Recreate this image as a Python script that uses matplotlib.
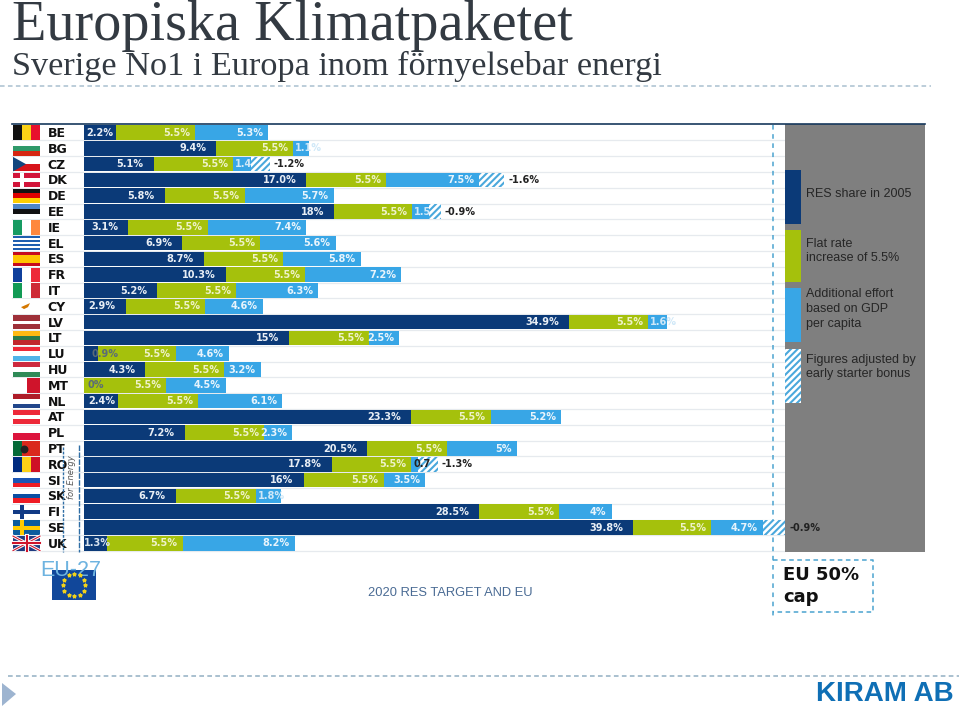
#!/usr/bin/env python

import matplotlib
matplotlib.use('Agg')
import matplotlib.pyplot as plt
import numpy as np

from matplotlib.patches import Polygon, Rectangle

W, H = 959, 706

# Bar lengths as drawn in the picture (percent on the picture's own scale,
# the source slide is slightly out of proportion with its printed labels)

countries = ['BE', 'BG', 'CZ', 'DK', 'DE', 'EE', 'IE', 'EL', 'ES', 'FR', 'IT', 'CY', 'LV', 'LT',
             'LU', 'HU', 'MT', 'NL', 'AT', 'PL', 'PT', 'RO', 'SI', 'SK', 'FI', 'SE', 'UK']
res_2005 = [2.3, 9.5, 5.0, 16.0, 5.8, 18.0, 3.2, 7.05, 8.6, 10.2, 5.25, 3.0, 34.9, 14.75,
            1.0, 4.4, 0, 2.45, 23.5, 7.25, 20.35, 17.85, 15.8, 6.6, 28.4, 39.5, 1.65]
flat_rate = [5.7, 5.55, 5.75, 5.75, 5.75, 5.6, 5.7, 5.6, 5.75, 5.7, 5.7, 5.7, 5.7, 5.75,
             5.6, 5.7, 5.9, 5.75, 5.75, 5.7, 5.75, 5.7, 5.75, 5.75, 5.8, 5.6, 5.45]
additional = [5.25, 1.15, 1.3, 6.7, 6.4, 1.2, 7.1, 5.45, 5.55, 6.9, 5.9, 4.15, 1.35, 2.15,
              3.8, 2.6, 4.3, 6.05, 5.1, 2.0, 5.05, 0.45, 3.0, 1.8, 3.75, 3.75, 8.05]
adjusted = [0, 0, 1.3, 1.8, 0, 0.85, 0, 0, 0, 0, 0, 0, 0, 0,
            0, 0, 0, 0, 0, 0, 0, 1.45, 0, 0, 0, 1.6, 0]

res_labels = ['2.2%', '9.4%', '5.1%', '17.0%', '5.8%', '18%', '3.1%', '6.9%', '8.7%', '10.3%',
              '5.2%', '2.9%', '34.9%', '15%', '0.9%', '4.3%', '0%', '2.4%', '23.3%', '7.2%',
              '20.5%', '17.8%', '16%', '6.7%', '28.5%', '39.8%', '1.3%']
add_labels = ['5.3%', '1.1%', '1.4', '7.5%', '5.7%', '1.5', '7.4%', '5.6%', '5.8%', '7.2%',
              '6.3%', '4.6%', '1.6%', '2.5%', '4.6%', '3.2%', '4.5%', '6.1%', '5.2%', '2.3%',
              '5%', '0.7', '3.5%', '1.8%', '4%', '4.7%', '8.2%']
adj_labels = ['', '', '-1.2%', '-1.6%', '', '-0.9%', '', '', '', '', '', '', '', '',
              '', '', '', '', '', '', '', '-1.3%', '', '', '', '-0.9%', '']

legend_labels = ['RES share in 2005', 'Flat rate\nincrease of 5.5%',
                 'Additional effort\nbased on GDP\nper capita',
                 'Figures adjusted by\nearly starter bonus']

# Flags: direction and stripe colours

flags = {
    'BE': ('v', ['#111111', '#fbd116', '#e8112d']),
    'BG': ('h', ['#ffffff', '#2f9a6a', '#d62612']),
    'CZ': ('h', ['#ffffff', '#d7141a']),
    'DK': ('h', ['#d2143a']),
    'DE': ('h', ['#111111', '#dd0000', '#ffce00']),
    'EE': ('h', ['#4f86c6', '#111111', '#ffffff']),
    'IE': ('v', ['#169b62', '#ffffff', '#ff883e']),
    'EL': ('h', ['#1f5fb0', '#ffffff', '#1f5fb0', '#ffffff', '#1f5fb0', '#ffffff', '#1f5fb0']),
    'ES': ('h', ['#c60b1e', '#ffc400', '#ffc400', '#c60b1e']),
    'FR': ('v', ['#0f3f9c', '#ffffff', '#ed2939']),
    'IT': ('v', ['#129a55', '#ffffff', '#ce2b37']),
    'CY': ('h', ['#ffffff']),
    'LV': ('h', ['#9e3039', '#9e3039', '#ffffff', '#9e3039', '#9e3039']),
    'LT': ('h', ['#fdb913', '#2a7a4a', '#c1272d']),
    'LU': ('h', ['#ed2939', '#ffffff', '#4fb3e8']),
    'HU': ('h', ['#cd2a3e', '#ffffff', '#2f8a57']),
    'MT': ('v', ['#ffffff', '#cf142b']),
    'NL': ('h', ['#ae1c28', '#ffffff', '#21468b']),
    'AT': ('h', ['#ed2939', '#ffffff', '#ed2939']),
    'PL': ('h', ['#ffffff', '#dc143c']),
    'PT': ('v', ['#046a38', '#da291c', '#da291c']),
    'RO': ('v', ['#002b7f', '#fcd116', '#ce1126']),
    'SI': ('h', ['#ffffff', '#1a55b5', '#ed1c24']),
    'SK': ('h', ['#ffffff', '#0b4ea2', '#ee1c25']),
    'FI': ('h', ['#ffffff']),
    'SE': ('h', ['#0a5c9e']),
    'UK': ('h', ['#1f3a80']),
}
crosses = {'DK': '#ffffff', 'FI': '#113a85', 'SE': '#fecc00'}

navy = '#0b3a78'
green = '#a5c10c'
blue = '#38a6e6'
px_per_pct = 13.9
x0, row_top, row_h = 84, 124.6, 15.8
panel_x = 785

fig = plt.figure(figsize=(W/100, H/100), dpi=100)

# Overlay in pixels for everything around the bars

bg = fig.add_axes([0, 0, 1, 1], zorder=1)
bg.set_xlim(0, W)
bg.set_ylim(H, 0)
bg.axis('off')

# Bars

bottom = row_top + 27*row_h
ax = fig.add_axes([x0/W, 1 - bottom/H, (panel_x - x0)/W, 27*row_h/H], zorder=2)
ax.patch.set_alpha(0)
ax.set_xlim(0, (panel_x - x0)/px_per_pct)
ax.set_ylim(26.5, -0.5)
ax.axis('off')

y = np.arange(len(countries))
res = np.array(res_2005)
flat = np.array(flat_rate)
add = np.array(additional)
adj = np.array(adjusted)

h = 0.93
plt.rcParams['hatch.linewidth'] = 1.5
ax.barh(y, res, h, color=navy)
ax.barh(y, flat, h, left=res, color=green)
ax.barh(y, add, h, left=res + flat, color=blue)
ax.barh(y, adj, h, left=res + flat + add, color='white', edgecolor='#4aa8dc', hatch='/////', linewidth=0)

def bar_label(x, i, s, color, ha='right', dx=-5):
    ax.annotate(s, (x, i), xytext=(dx*0.72, 0), textcoords='offset points', ha=ha, va='center',
                color=color, fontsize=7, fontweight='bold', clip_on=False)

for i in y:
    end_res = res[i]
    end_flat = end_res + flat[i]
    end_add = end_flat + add[i]
    if res[i] < 1.2:
        bar_label(0, i, res_labels[i], '#5a6b78', ha='left', dx=3 if res[i] == 0 else 7)
    elif res[i] < 2:
        bar_label(0, i, res_labels[i], '#d8e4f0', ha='left', dx=0)
    elif res[i] < 2.5:
        bar_label(end_res, i, res_labels[i], '#e8eef5', dx=-3)
    else:
        bar_label(end_res, i, res_labels[i], '#e8eef5', dx=-10)
    bar_label(end_flat, i, '5.5%', '#eef2c8', dx=-5)
    if add[i] < 1.9:
        c = '#222222' if add_labels[i] == '0.7' else '#cfe8f8'
        bar_label(end_flat, i, add_labels[i], c, ha='left', dx=2)
    else:
        bar_label(end_flat + add[i], i, add_labels[i], '#e8f4fc', dx=-5)
    if adj[i] > 0:
        bar_label(end_add + adj[i], i, adj_labels[i], '#222222', ha='left', dx=4)

# Row lines, labels and flags

for i, name in enumerate(countries):
    yc = row_top + (i + 0.5)*row_h
    bg.plot([12, panel_x], [yc + row_h/2]*2, color='#e6eaee', lw=0.9, zorder=1)
    bg.text(47.5, yc + 1, name, fontsize=9, fontweight='bold', color='#111111', va='center', ha='left', zorder=4)

    fx, fy, fw, fh = 13, yc - 7.2, 27, 14.5
    kind, cols = flags[name]
    n = len(cols)
    for k, c in enumerate(cols):
        if kind == 'h':
            bg.add_patch(Rectangle((fx, fy + k*fh/n), fw, fh/n, fc=c, ec='none', zorder=2))
        else:
            bg.add_patch(Rectangle((fx + k*fw/n, fy), fw/n, fh, fc=c, ec='none', zorder=2))
    if name in crosses:
        bg.add_patch(Rectangle((fx + 7, fy), 4, fh, fc=crosses[name], ec='none', zorder=3))
        bg.add_patch(Rectangle((fx, fy + fh/2 - 2), fw, 4, fc=crosses[name], ec='none', zorder=3))
    if name == 'CZ':
        bg.add_patch(Polygon([(fx, fy), (fx + 13, fy + fh/2), (fx, fy + fh)], fc='#11457e', ec='none', zorder=3))
    if name == 'CY':
        bg.add_patch(Polygon([(fx + 8, fy + 8), (fx + 17, fy + 4), (fx + 15, fy + 8), (fx + 11, fy + 10)],
                             fc='#d57800', ec='none', zorder=3))
    if name == 'PT':
        bg.scatter([fx + 11], [yc], s=22, color='#222222', zorder=3)
    if name == 'UK':
        for sx in (1, -1):
            bg.plot([fx + fw/2 - sx*fw/2, fx + fw/2 + sx*fw/2], [fy, fy + fh], color='white', lw=2.2, zorder=3)
            bg.plot([fx + fw/2 - sx*fw/2, fx + fw/2 + sx*fw/2], [fy, fy + fh], color='#cf142b', lw=0.8, zorder=3)
        bg.plot([fx + fw/2]*2, [fy, fy + fh], color='white', lw=3, zorder=3)
        bg.plot([fx, fx + fw], [fy + fh/2]*2, color='white', lw=3, zorder=3)
        bg.plot([fx + fw/2]*2, [fy, fy + fh], color='#cf142b', lw=1.5, zorder=3)
        bg.plot([fx, fx + fw], [fy + fh/2]*2, color='#cf142b', lw=1.5, zorder=3)

# Grey legend panel

bg.add_patch(Rectangle((panel_x, 124), 140, 428, fc='#7f7f7f', ec='none', zorder=1.5))
bg.plot([12, 925], [124, 124], color='#16385c', lw=1.2, zorder=3)

swatch_y = [170, 230, 288, 349]
swatch_h = [54, 52, 54, 54]
swatch_c = [navy, green, blue, 'white']
legend_text_y = [194, 251, 309, 367]
for sy, sh, c, s, ty in zip(swatch_y, swatch_h, swatch_c, legend_labels, legend_text_y):
    hatch = '/////' if c == 'white' else None
    ec = '#4aa8dc' if c == 'white' else 'none'
    bg.add_patch(Rectangle((785, sy), 16, sh, fc=c, ec=ec, hatch=hatch, lw=0, zorder=3))
    bg.text(806, ty, s, fontsize=9, color='#262626', family='Liberation Sans', va='center', ha='left',
            linespacing=1.3, zorder=3)

# Dashed 50% cap line and box

cap = '#4aa3cf'
bg.plot([773, 773], [125, 617], color=cap, lw=1.1, ls=(0, (3, 3)), zorder=5)
bg.plot([773, 873, 873, 773], [560, 560, 612, 612], color=cap, lw=1.1, ls=(0, (3, 2.3)), zorder=5)
bg.text(783, 586, 'EU 50%\ncap', fontsize=13, fontweight='bold', color='#111111', va='center', ha='left',
        linespacing=1.26, zorder=5)

# Lower left leftovers of the source slide

bg.text(40, 571, 'EU-27', fontsize=15.5, color='#6db3e0', family='Liberation Sans', va='center', ha='left', zorder=6)
bg.add_patch(Rectangle((52, 570), 44, 30, fc='#11479a', ec='none', zorder=5))
star_angle = np.arange(12)*np.pi/6
bg.scatter(74 + 11*np.cos(star_angle), 585 + 11*np.sin(star_angle), s=6, marker='*', color='#f2d21a', zorder=6)
bg.text(71, 477, 'for Energy', fontsize=6, style='italic', rotation=90, color='#555555', va='center', ha='center', zorder=6)
bg.plot([63, 63], [447, 552], color='#2f6ea5', lw=1, ls=(0, (2, 1)), zorder=6)
bg.plot([79, 79], [445, 552], color='#2f6ea5', lw=1, ls=(0, (4, 1)), zorder=6)
bg.text(368, 593, '2020 RES TARGET AND EU', fontsize=9.3, color='#4a6b94', family='Liberation Sans',
        va='center', ha='left', zorder=6)

# Slide title and footer

bg.text(12, 40, 'Europiska Klimatpaketet', fontsize=40.5, color='#333a42', family='Liberation Serif', va='baseline', ha='left')
bg.text(12, 75, 'Sverige No1 i Europa inom förnyelsebar energi', fontsize=24.7, color='#333a42',
        family='Liberation Serif', va='baseline', ha='left')
bg.plot([0, 931], [86, 86], color='#a9c0cf', lw=1.1, ls=(0, (3, 2.2)))
bg.plot([8, 959], [676, 676], color='#a9c0cf', lw=1.4, ls=(0, (2.4, 1.7)))
bg.add_patch(Polygon([(2, 683), (16, 694), (2, 706)], fc='#9db4d0', ec='none'))
bg.text(816, 701, 'KIRAM AB', fontsize=20, fontweight='bold', color='#0f6fb5', family='Liberation Sans',
        va='baseline', ha='left')

fig.savefig('out.png', dpi=100)
